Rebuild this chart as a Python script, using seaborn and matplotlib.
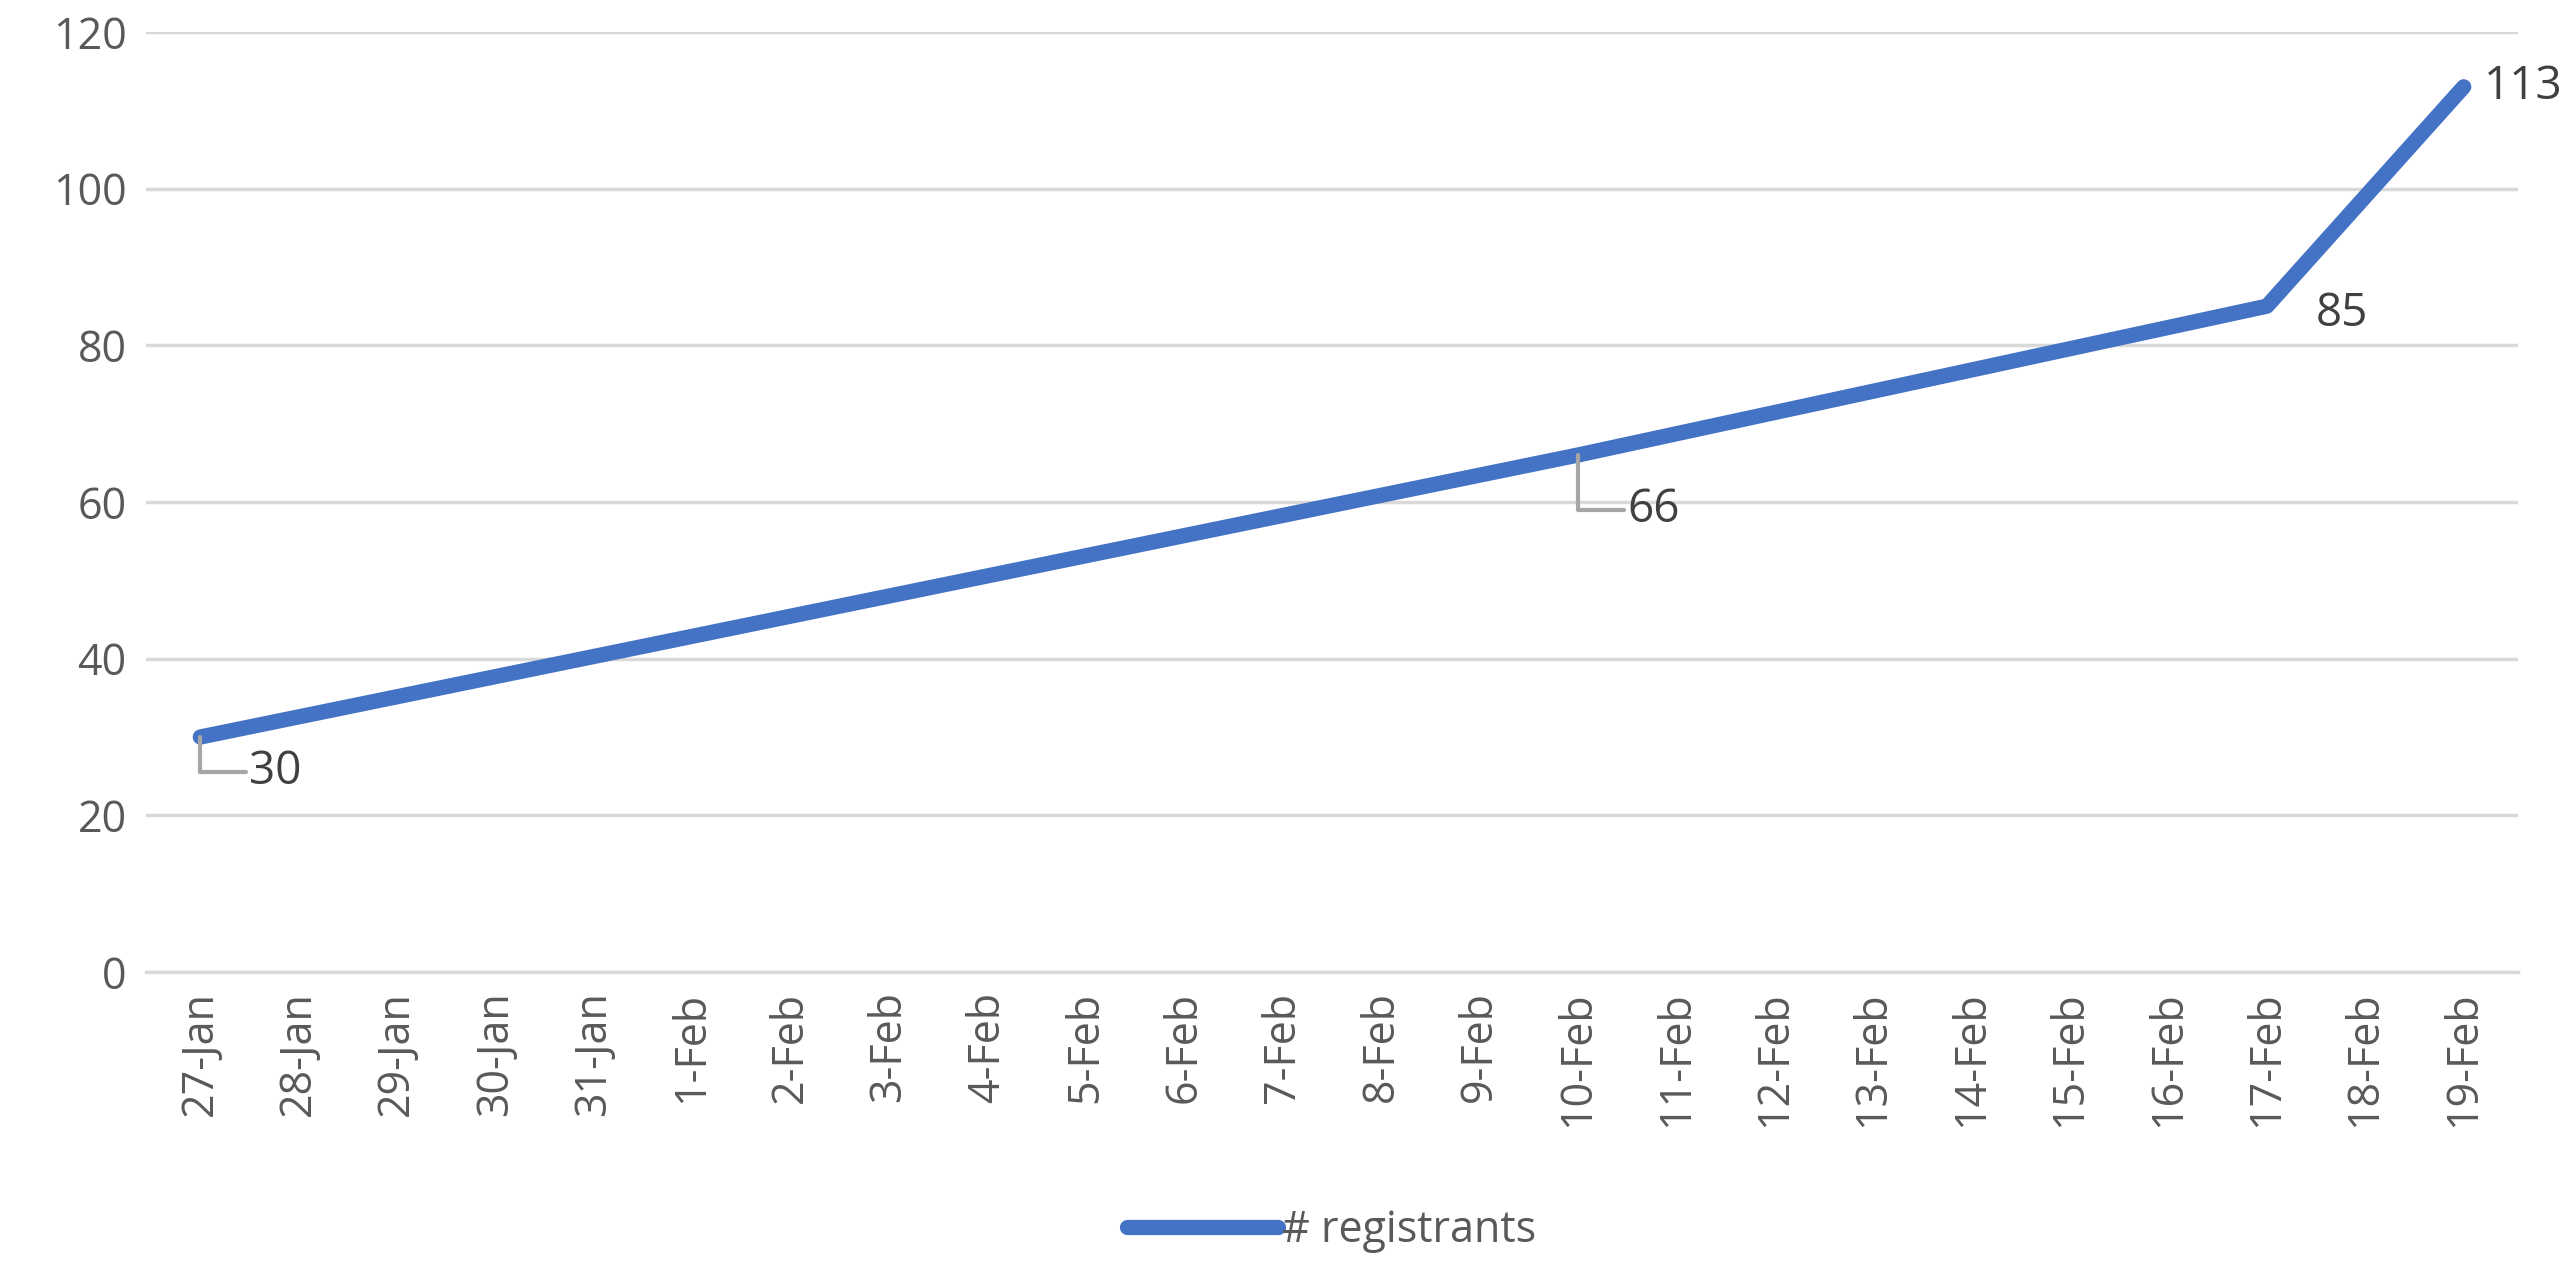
import matplotlib
matplotlib.use("Agg")
import matplotlib.pyplot as plt
import seaborn as sns
import pandas as pd

days = ["27-Jan","28-Jan","29-Jan","30-Jan","31-Jan","1-Feb","2-Feb","3-Feb","4-Feb","5-Feb",
        "6-Feb","7-Feb","8-Feb","9-Feb","10-Feb","11-Feb","12-Feb","13-Feb","14-Feb","15-Feb",
        "16-Feb","17-Feb","18-Feb","19-Feb"]
point_days = ["27-Jan","10-Feb","17-Feb","19-Feb"]
registrants = [30, 66, 85, 113]

sns.set_theme(style="white")
plt.rcParams['font.family'] = ['Open Sans', 'DejaVu Sans']

df = pd.DataFrame({"x": [days.index(d) for d in point_days], "y": registrants})
fig = plt.figure(figsize=(25.64, 12.79), dpi=100)
ax = fig.add_axes([0.057, 0.24, 0.925, 0.735])
sns.lineplot(data=df, x="x", y="y", ax=ax, color="#4472C4", linewidth=11,
             label="# registrants", solid_capstyle="round")
ax.set_xlim(-0.55, len(days) - 0.45)
ax.set_ylim(0, 120)
ax.set_yticks(range(0, 121, 20))
ax.set_xticks(range(len(days)))
ax.set_xticklabels(days, rotation=90)
ax.tick_params(axis='both', labelsize=31, colors="#595959", length=0, pad=14)
ax.yaxis.grid(True, color="#D9D9D9", linewidth=2.5)
for s in ["top", "right", "left"]:
    ax.spines[s].set_visible(False)
ax.spines["bottom"].set_color("#D9D9D9")
ax.spines["bottom"].set_linewidth(2.5)
ax.set_xlabel(""); ax.set_ylabel("")

lbl = dict(fontsize=33, color="#404040", va="center")
xs = df["x"].tolist()
ax.annotate(str(registrants[0]), xy=(xs[0], registrants[0]), xytext=(xs[0] + 0.5, 25.5),
            arrowprops=dict(arrowstyle="-", color="#A6A6A6", lw=3, shrinkA=0, shrinkB=0,
                            connectionstyle="angle,angleA=0,angleB=90,rad=0"), **lbl)
ax.annotate(str(registrants[1]), xy=(xs[1], registrants[1]), xytext=(xs[1] + 0.5, 59),
            arrowprops=dict(arrowstyle="-", color="#A6A6A6", lw=3, shrinkA=0, shrinkB=0,
                            connectionstyle="angle,angleA=0,angleB=90,rad=0"), **lbl)
ax.text(xs[2] + 0.5, 84, str(registrants[2]), **lbl)
ax.text(xs[3] + 0.2, 113, str(registrants[3]), **lbl)

leg = ax.legend(loc="lower center", bbox_to_anchor=(0.5, -0.34), frameon=False,
                fontsize=31, handlelength=3.5, handletextpad=0.1)
for t in leg.get_texts():
    t.set_color("#595959")
fig.savefig("out.png", dpi=100)
